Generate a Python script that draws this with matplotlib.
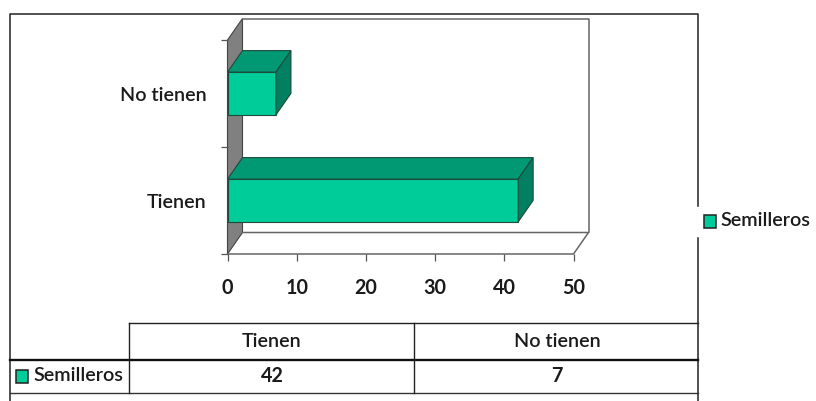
import matplotlib
matplotlib.use("Agg")
import matplotlib.pyplot as plt
from matplotlib.patches import Polygon, Rectangle

plt.rcParams['font.family'] = ['Lato', 'DejaVu Sans']

categories = ['Tienen', 'No tienen']
values = [42, 7]
series_name = 'Semilleros'
x_ticks = [0, 10, 20, 30, 40, 50]

FACE = '#00CC99'
TOP = '#009973'
SIDE = '#008060'
WALL = '#808080'
TEXT = '#1a1a1a'
FS = 14.2
W, H = 816, 401


def ax_box(left, top, right, bottom):
    """pixel box (y down) to figure fractions"""
    return [left / W, 1 - bottom / H, (right - left) / W, (bottom - top) / H]


fig = plt.figure(figsize=(W / 100, H / 100), dpi=100)

# Overlay in pixel coords for the frame, table and legend
page = fig.add_axes([0, 0, 1, 1])
page.set_xlim(0, W)
page.set_ylim(H, 0)
page.axis('off')

# Outer frame
page.plot([10, 10, 698, 698], [401, 13.5, 13.5, 206], color='#222222', lw=1.1)
page.plot([698, 698], [238, 401], color='#222222', lw=1.1)

# Data table
page.plot([129, 698], [323, 323], color='#222222', lw=1.0)
page.plot([10, 698], [360, 360], color='#111111', lw=1.7)
page.plot([10, 698], [393, 393], color='#333333', lw=1.0)
page.plot([129, 129], [323, 393], color='#222222', lw=1.0)
page.plot([413.5, 413.5], [323, 393], color='#222222', lw=1.0)

col_centers = [272, 557]
for cx, cat, val in zip(col_centers, categories, values):
    page.text(cx, 341.5, cat, ha='center', va='center', fontsize=FS,
              fontweight='semibold', color=TEXT)
    page.text(cx, 376, str(val), ha='center', va='center', fontsize=FS,
              fontweight='bold', color=TEXT)

page.add_patch(Rectangle((16, 370), 12, 13, fc=FACE, ec='#222222', lw=1.1))
page.text(33, 375.5, series_name, ha='left', va='center', fontsize=FS,
          fontweight='semibold', color=TEXT)

# Legend
page.add_patch(Rectangle((704, 215), 12, 13, fc=FACE, ec='#222222', lw=1.1))
page.text(720, 221, series_name, ha='left', va='center', fontsize=FS,
          fontweight='semibold', color=TEXT)

# Chart axes: front plane of the 3D box
ax = fig.add_axes(ax_box(227.5, 40, 573.5, 254))
ax.set_xlim(0, 50)
ax.set_ylim(0, 2)
ax.patch.set_alpha(0)
for side in ax.spines.values():
    side.set_visible(False)

# Depth of the fake 3D box, in data units
dx = 15 / 6.92
dy = 21.5 / 107

# Left wall and back / floor outlines
line = '#666666'
ax.add_patch(Polygon([(0, 0), (dx, dy), (dx, 2 + dy), (0, 2)], fc=WALL, ec='#444444',
                     lw=0.8, clip_on=False, zorder=1))
ax.plot([dx, 50 + dx, 50 + dx], [2 + dy, 2 + dy, dy], color=line, lw=1.1, clip_on=False, zorder=1)
ax.plot([dx, 50 + dx, 50, 0], [dy, dy, 0, 0], color=line, lw=1.1, clip_on=False, zorder=1)

# Bars
bar_h = 0.4
edge = '#1f4a3c'
for i, val in enumerate(values):
    y0 = i + 0.5 - bar_h / 2
    y1 = i + 0.5 + bar_h / 2
    ax.barh(i + 0.5, val, height=bar_h, color=FACE, edgecolor=edge, lw=0.8, zorder=3)
    ax.add_patch(Polygon([(0, y1), (dx, y1 + dy), (val + dx, y1 + dy), (val, y1)],
                         fc=TOP, ec=edge, lw=0.8, clip_on=False, zorder=3))
    ax.add_patch(Polygon([(val, y0), (val + dx, y0 + dy), (val + dx, y1 + dy), (val, y1)],
                         fc=SIDE, ec=edge, lw=0.8, clip_on=False, zorder=3))

ax.set_xticks(x_ticks)
ax.set_yticks([0, 1, 2])
ax.set_yticklabels([])
ax.tick_params(axis='both', length=5, width=0.9, color='#555555', pad=0)
ax.set_xticklabels([str(t) for t in x_ticks], fontsize=FS, fontweight='bold', color=TEXT)
ax.tick_params(axis='x', pad=12.5)

for i, cat in enumerate(categories):
    ax.annotate(cat, (0, i + 0.5), xytext=(-14.8, -1.6), textcoords='offset points',
                ha='right', va='center', fontsize=FS, fontweight='semibold', color=TEXT)

fig.savefig('out.png', dpi=100)
